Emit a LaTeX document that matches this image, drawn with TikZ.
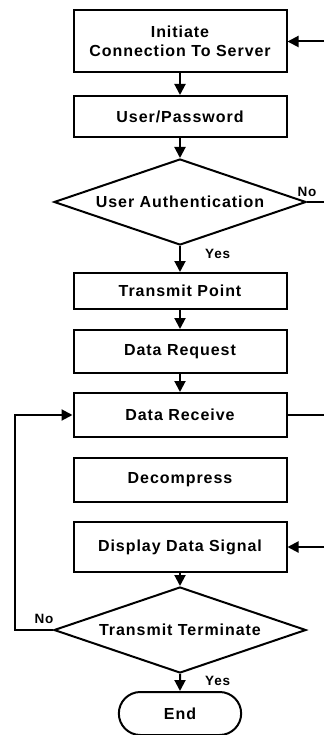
\documentclass[tikz,border=0pt]{standalone}
\usepackage{fontspec}
\setmainfont{Liberation Sans}
\usetikzlibrary{arrows.meta,shapes.geometric,shapes.misc,positioning}
\newcommand{\flowfont}{\fontsize{16}{19}\selectfont\bfseries\addfontfeature{LetterSpace=6}}
\newcommand{\answerfont}{\fontsize{13.5}{16}\selectfont\bfseries\addfontfeature{LetterSpace=6}}
\tikzstyle{process} = [rectangle, minimum width=213pt, minimum height=42pt, text centered, align=center, draw=black, fill=white, line width=2pt, font=\flowfont]
\tikzstyle{decision} = [diamond, aspect=2.9, minimum width=252pt, minimum height=86pt, inner sep=0pt, text centered, draw=black, fill=white, line width=2pt, font=\flowfont]
\tikzstyle{terminal} = [rounded rectangle, minimum width=129pt, minimum height=43pt, draw=black, fill=white, line width=2pt, font=\flowfont]
\tikzstyle{answer} = [inner sep=1pt, font=\answerfont]
\tikzstyle{arrow} = [line width=2pt, -{Triangle[width=11pt,length=11pt]}]
\tikzstyle{link} = [line width=2pt]

\begin{document}
\begin{tikzpicture}[x=1pt, y=1pt, node distance=75pt]
\useasboundingbox (0,0) rectangle (324,-735);
% Steps
\node (init) [process, minimum height=62pt] at (180,-41.5) {Initiate\\Connection To Server};
\node (user) [process, below of=init, node distance=75pt, minimum height=41pt] {User/Password};
\node (auth) [decision, below of=user, node distance=85.5pt] {User Authentication};
\node (trans) [process, below of=auth, node distance=89pt, minimum height=36pt] {Transmit Point};
\node (req) [process, below of=trans, node distance=60.5pt, minimum height=43pt] {Data Request};
\node (recv) [process, below of=req, node distance=63.5pt, minimum height=44pt] {Data Receive};
\node (decomp) [process, below of=recv, node distance=65pt, minimum height=44pt] {Decompress};
\node (disp) [process, below of=decomp, node distance=67pt, minimum height=50pt] {Display Data Signal};
\node (term) [decision, below of=disp, node distance=83pt] {Transmit Terminate};
\node (stop) [terminal, below of=term, node distance=83.5pt] {End};

% Answers
\node (authno) [answer, above=4pt of auth.east, xshift=0pt] {No};
\node (authyes) [answer, right=24pt of auth.south, yshift=-8pt] {Yes};
\node (termno) [answer, above=5pt of term.west, xshift=-9pt] {No};
\node (termyes) [answer, right=24pt of term.south, yshift=-7pt] {Yes};

% Loose ends at the right border
\coordinate (initin) at (324,-41.5);
\coordinate (authout) at (324,-202);
\coordinate (recvout) at (324,-415);
\coordinate (dispin) at (324,-547);
\coordinate (loopcorner) at (15,-630);

% Arrows
\draw[arrow] (init) -- (user);
\draw[arrow] (user) -- (auth);
\draw[arrow] (auth) -- (trans);
\draw[arrow] (trans) -- (req);
\draw[arrow] (req) -- (recv);
\draw[arrow] (disp) -- (term);
\draw[arrow] (term) -- (stop);
\draw[arrow] (initin) -- (init);
\draw[arrow] (dispin) -- (disp);
\draw[link] (auth.east) -- (authout);
\draw[link] (recv.east) -- (recvout);
\draw[arrow] (term.west) -- (loopcorner) |- (recv.west);
\end{tikzpicture}
\end{document}
